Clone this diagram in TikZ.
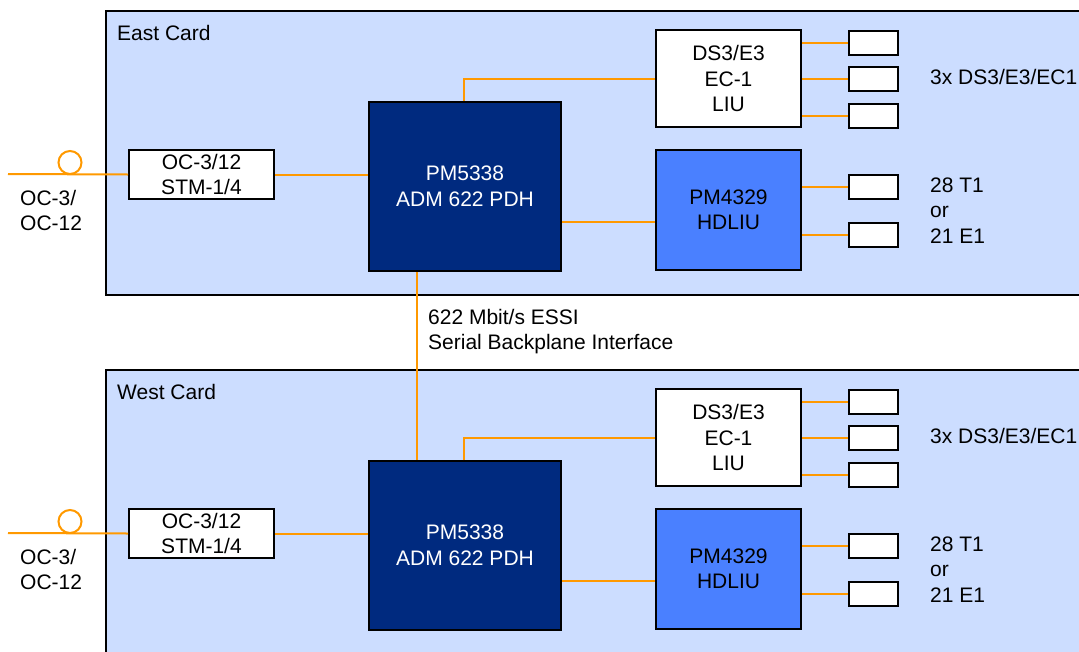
\documentclass[tikz,border=0pt]{standalone}
\usepackage{fontspec}
\setmainfont{Liberation Sans}
\usetikzlibrary{calc}
\definecolor{cardfill}{HTML}{CCDDFF}
\definecolor{navy}{HTML}{002A7F}
\definecolor{hdblue}{HTML}{4A80FF}
\definecolor{wireor}{HTML}{FF9900}
\newcommand\lbl{\fontsize{21}{25.5}\selectfont}
\tikzset{
  card/.style={draw=black, line width=2pt, fill=cardfill, inner sep=0pt},
  box/.style={draw=black, line width=2pt, fill=white, inner sep=0pt, align=center, font=\lbl},
  chip/.style={draw=black, line width=2pt, fill=navy, text=white, inner sep=0pt, align=center, font=\lbl},
  hdchip/.style={draw=black, line width=2pt, fill=hdblue, inner sep=0pt, align=center, font=\lbl},
  port/.style={draw=black, line width=2pt, fill=white, inner sep=0pt, minimum width=49pt, minimum height=24pt},
  wire/.style={draw=wireor, line width=2pt},
  txt/.style={inner sep=0pt, align=left, font=\lbl, anchor=west},
  fiber/.style={circle, draw=wireor, line width=2pt, inner sep=0pt, minimum size=23pt},
}
\newcommand\drawcard[3]{%
\begin{scope}[yshift=#2]
  \node[card, minimum width=990pt, minimum height=284pt, anchor=north west] (#1card) at (105,10) {};
  \node[txt] (#1title) at (117,33) {#3};
  \coordinate (#1fstart) at (8,174);
  \node[fiber] (#1fib) at (70,162.5) {};
  \node[box, minimum width=145pt, minimum height=49pt] (#1oc) at (201.5,174.5) {OC-3/12\\STM-1/4};
  \node[txt] (#1octxt) at (20,210.5) {OC-3/\\OC-12};
  \node[chip, minimum width=192pt, minimum height=169pt] (#1pm) at (465,186.5) {PM5338\\ADM 622 PDH};
  \node[box, minimum width=145pt, minimum height=97pt] (#1ds) at (728.5,78.5) {DS3/E3\\EC-1\\LIU};
  \node[hdchip, minimum width=145pt, minimum height=120pt] (#1hd) at (728.5,210) {PM4329\\HDLIU};
  \node[port] (#1p1) at (873,43) {};
  \node[port] (#1p2) at (873,79) {};
  \node[port] (#1p3) at (873,115.5) {};
  \node[port] (#1p4) at (873,186.5) {};
  \node[port] (#1p5) at (873,234.5) {};
  \node[txt] (#1dstxt) at (930,77) {3x DS3/E3/EC1};
  \node[txt] (#1hdtxt) at (930,210.5) {28 T1\\or\\21 E1};
  \draw[wire] (#1fstart) -- (#1oc.west);
  \draw[wire] (#1oc.east) -- (#1oc.east -| #1pm.west);
  \draw[wire] ([xshift=-1pt]#1pm.north) |- (#1ds.west);
  \coordinate (#1hdy) at (0,222);
  \draw[wire] (#1pm.east |- #1hdy) -- (#1hd.west |- #1hdy);
  \foreach \i in {1,2,3} {\draw[wire] (#1ds.east |- #1p\i) -- (#1p\i.west);}
  \foreach \i in {4,5} {\draw[wire] (#1hd.east |- #1p\i) -- (#1p\i.west);}
\end{scope}}
\begin{document}
\begin{tikzpicture}[x=1pt,y=-1pt]
  \useasboundingbox (0,0) rectangle (1079,651);
  \clip (0,0) rectangle (1079,651);
  \drawcard{E}{0pt}{East Card}
  \drawcard{W}{-359pt}{West Card}
  \draw[wire] ([xshift=-48pt]Epm.south) -- ([xshift=-48pt]Wpm.north);
  \node[txt] (bp) at (428,331.5) {622 Mbit/s ESSI\\Serial Backplane Interface};
\end{tikzpicture}
\end{document}
